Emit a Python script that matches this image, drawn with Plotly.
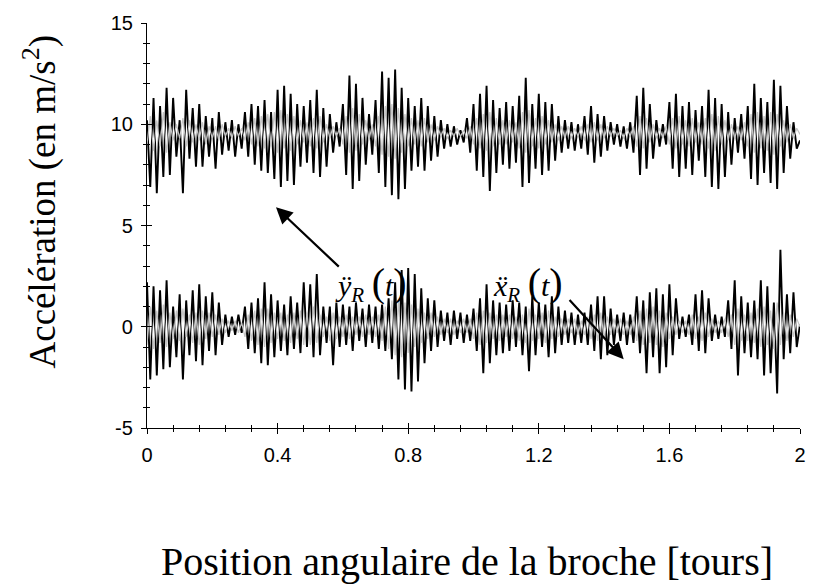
import numpy as np
import plotly.graph_objects as go

# Sampling step along the spindle angle (tours)
STEP = 0.01

# Y-direction acceleration, main trace (m/s^2)
y_black = [
    10.2, 6.9, 11.3, 6.6, 10.9, 7.4, 11.8, 7.5, 11.3, 8.4,
    10.2, 6.6, 11.7, 8.3, 10.8, 7.9, 11.0, 7.9, 10.4, 8.4,
    10.3, 7.8, 10.6, 8.5, 10.1, 8.7, 10.2, 8.4, 10.0, 8.8,
    10.6, 8.4, 11.0, 8.0, 10.9, 7.7, 11.2, 7.6, 10.6, 7.3,
    11.7, 6.9, 11.9, 7.2, 11.5, 7.0, 11.0, 7.9, 10.9, 8.1,
    11.2, 7.6, 11.7, 7.4, 10.8, 7.9, 10.5, 8.6, 10.1, 8.9,
    11.0, 7.5, 12.4, 6.8, 12.0, 7.2, 11.3, 8.0, 10.5, 8.5,
    11.2, 7.6, 12.6, 6.9, 12.3, 6.5, 12.7, 6.3, 11.8, 6.8,
    11.3, 7.7, 10.9, 7.9, 11.3, 7.7, 10.9, 8.2, 10.4, 8.4,
    10.2, 8.8, 10.0, 8.9, 9.9, 9.0, 9.7, 9.1, 10.3, 8.6,
    11.0, 7.7, 11.5, 7.4, 11.9, 6.7, 11.2, 7.6, 10.8, 8.0,
    11.1, 7.8, 10.9, 8.1, 11.4, 6.9, 12.3, 7.1, 11.0, 7.8,
    11.5, 7.5, 11.1, 7.7, 11.0, 8.2, 10.4, 8.6, 10.2, 8.8,
    10.1, 8.7, 10.0, 8.8, 10.4, 8.5, 10.9, 8.1, 10.5, 8.4,
    10.4, 8.7, 10.1, 9.0, 10.0, 8.9, 9.9, 8.8, 10.1, 8.6,
    11.4, 7.5, 11.8, 7.8, 11.0, 8.3, 10.2, 8.9, 10.0, 9.0,
    11.1, 7.8, 11.5, 7.4, 10.9, 7.8, 11.1, 7.5, 10.7, 8.2,
    10.9, 7.4, 11.7, 6.9, 11.3, 6.8, 11.0, 7.4, 10.6, 8.0,
    10.3, 8.6, 10.5, 8.3, 10.9, 7.3, 12.0, 7.0, 11.3, 7.6,
    11.1, 7.1, 12.2, 6.8, 11.9, 7.6, 10.9, 8.3, 10.1, 8.8, 9.2,
]

# Y-direction acceleration, grey overlay trace (m/s^2)
y_grey = [
    9.0, 10.4, 8.7, 10.2, 8.9, 10.6, 8.6, 10.1, 9.2, 10.0,
    9.3, 10.3, 8.9, 10.2, 9.1, 10.0, 9.2, 10.1, 9.0, 9.9,
    9.3, 9.9, 9.2, 10.0, 9.4, 9.8, 9.3, 9.9, 9.4, 9.8,
    9.2, 10.1, 9.0, 10.3, 8.9, 10.4, 8.8, 10.5, 8.9, 10.6,
    8.6, 10.7, 8.8, 10.5, 8.7, 10.4, 9.0, 10.2, 9.1, 10.1,
    8.9, 10.3, 8.8, 10.4, 9.1, 10.0, 9.3, 9.9, 9.4, 9.8,
    9.0, 10.4, 8.6, 10.8, 8.7, 10.5, 9.0, 10.2, 9.2, 10.0,
    8.9, 10.4, 8.5, 10.9, 8.4, 11.0, 8.3, 10.8, 8.6, 10.5,
    8.9, 10.3, 9.0, 10.2, 8.9, 10.3, 9.1, 10.0, 9.2, 9.9,
    9.4, 9.8, 9.3, 9.7, 9.4, 9.8, 9.4, 9.7, 9.3, 9.9,
    9.0, 10.3, 8.8, 10.5, 8.7, 10.6, 8.9, 10.3, 9.0, 10.2,
    9.0, 10.2, 9.1, 10.1, 8.8, 10.6, 8.6, 10.7, 8.9, 10.3,
    8.8, 10.4, 9.0, 10.2, 9.1, 10.0, 9.2, 9.9, 9.3, 9.9,
    9.3, 9.8, 9.4, 9.9, 9.2, 10.0, 9.1, 10.1, 9.2, 10.0,
    9.3, 9.9, 9.4, 9.8, 9.4, 9.7, 9.3, 9.8, 9.4, 9.9,
    8.9, 10.4, 8.8, 10.3, 9.1, 10.0, 9.3, 9.8, 9.3, 9.9,
    9.0, 10.3, 8.8, 10.4, 9.0, 10.2, 8.9, 10.3, 9.1, 10.1,
    9.0, 10.3, 8.8, 10.5, 8.7, 10.4, 9.0, 10.2, 9.2, 10.0,
    9.3, 9.9, 9.2, 10.1, 8.9, 10.5, 8.6, 10.6, 8.8, 10.4,
    8.7, 10.6, 8.5, 10.5, 8.9, 10.2, 9.1, 10.0, 9.3, 9.8, 9.5,
]

# X-direction acceleration, main trace (m/s^2)
x_black = [
    2.2, -2.6, 2.0, -2.4, 1.8, -2.1, 2.3, -2.0, 1.0, -1.5,
    1.6, -2.6, 1.3, -1.4, 1.8, -1.7, 2.1, -1.9, 1.5, -1.2,
    1.7, -1.4, 1.2, -0.9, 0.6, -0.5, 0.5, -0.4, 0.6, -0.3,
    1.0, -1.1, 1.2, -1.3, 1.4, -1.8, 2.2, -1.9, 1.6, -1.5,
    1.3, -1.2, 1.1, -1.4, 1.5, -1.1, 1.2, -1.3, 2.2, -1.0,
    2.1, -1.5, 2.6, -1.4, 1.0, -0.8, 1.0, -1.9, 1.2, -1.0,
    1.1, -0.9, 1.0, -1.2, 1.2, -0.7, 0.9, -1.0, 1.1, -0.8,
    1.0, -1.1, 1.1, -1.2, 1.4, -1.6, 2.2, -2.6, 2.8, -3.1,
    2.9, -3.2, 2.6, -2.7, 1.9, -1.8, 1.4, -1.2, 1.3, -1.0,
    0.8, -0.7, 0.7, -0.9, 0.8, -0.6, 0.7, -0.8, 0.6, -0.7,
    0.9, -1.2, 1.4, -2.3, 2.1, -1.8, 1.3, -1.4, 1.2, -1.3,
    1.1, -1.2, 1.3, -1.0, 1.2, -1.4, 1.0, -2.2, 1.5, -1.4,
    1.2, -1.0, 1.1, -1.5, 1.5, -1.3, 1.0, -0.9, 0.8, -0.8,
    0.7, -0.9, 0.6, -0.8, 0.7, -0.9, 1.1, -1.2, 1.5, -1.6,
    1.5, -1.4, 0.9, -0.9, 0.6, -0.7, 0.7, -0.9, 0.6, -0.8,
    1.5, -1.3, 1.3, -2.3, 1.7, -1.5, 1.9, -2.3, 1.6, -2.0,
    2.1, -1.4, 1.4, -0.6, 0.5, -0.5, 0.6, -0.9, 1.6, -1.2,
    1.8, -1.3, 1.4, -0.7, 0.6, -0.6, 0.5, -0.5, 1.3, -1.1,
    2.3, -2.4, 1.5, -1.3, 1.2, -1.5, 1.3, -1.6, 2.3, -2.4,
    2.0, -2.3, 1.2, -3.3, 3.8, -1.6, 1.6, -1.3, 1.7, -1.0, 0.1,
]

# X-direction acceleration, grey overlay trace (m/s^2)
x_grey = [
    -0.9, 1.0, -1.1, 0.8, -0.8, 1.1, -1.0, 0.7, -0.6, 0.8,
    -0.7, 0.9, -0.5, 0.6, -0.8, 0.7, -0.9, 0.8, -0.6, 0.7,
    -0.5, 0.6, -0.4, 0.4, -0.3, 0.3, -0.2, 0.3, -0.3, 0.2,
    -0.5, 0.6, -0.7, 0.8, -0.9, 0.9, -1.0, 0.9, -0.8, 0.7,
    -0.6, 0.7, -0.7, 0.6, -0.8, 0.7, -0.6, 0.8, -0.9, 0.7,
    -0.9, 1.0, -0.8, 0.6, -0.5, 0.5, -0.7, 0.7, -0.6, 0.5,
    -0.5, 0.6, -0.6, 0.5, -0.4, 0.5, -0.5, 0.6, -0.4, 0.5,
    -0.5, 0.6, -0.7, 1.0, -1.1, 1.3, -1.4, 1.3, -1.5, 1.2,
    -1.3, 1.1, -1.0, 0.9, -0.8, 0.7, -0.6, 0.7, -0.5, 0.5,
    -0.4, 0.4, -0.3, 0.4, -0.4, 0.3, -0.3, 0.4, -0.3, 0.4,
    -0.6, 0.7, -0.9, 0.8, -0.8, 0.7, -0.6, 0.6, -0.7, 0.6,
    -0.5, 0.6, -0.6, 0.5, -0.7, 0.6, -0.8, 0.9, -0.7, 0.6,
    -0.6, 0.7, -0.8, 0.8, -0.6, 0.5, -0.5, 0.4, -0.4, 0.4,
    -0.3, 0.4, -0.4, 0.3, -0.4, 0.5, -0.6, 0.6, -0.7, 0.7,
    -0.6, 0.5, -0.4, 0.4, -0.3, 0.4, -0.4, 0.3, -0.4, 0.5,
    -0.7, 0.8, -0.9, 0.9, -0.8, 1.0, -0.9, 0.8, -1.0, 0.7,
    -0.6, 0.5, -0.4, 0.3, -0.3, 0.3, -0.4, 0.6, -0.6, 0.5,
    -0.7, 0.7, -0.5, 0.4, -0.3, 0.3, -0.3, 0.4, -0.5, 0.6,
    -0.9, 0.9, -0.7, 0.6, -0.7, 0.7, -0.8, 0.9, -1.0, 1.0,
    -0.9, 0.8, -1.1, 1.2, -0.9, 0.7, -0.7, 0.6, -0.5, 0.4, 0.0,
]

x_ticks = [0, 0.4, 0.8, 1.2, 1.6, 2]
x_tick_text = ["0", "0.4", "0.8", "1.2", "1.6", "2"]
y_ticks = [-5, 0, 5, 10, 15]
y_tick_text = ["-5", "0", "5", "10", "15"]

angle = np.arange(len(y_black)) * STEP

SERIF = "Liberation Serif, Times New Roman, serif"
SANS = "Liberation Sans, Arial, sans-serif"

fig = go.Figure()
fig.add_trace(go.Scatter(x=angle, y=y_black, mode="lines",
                         line=dict(color="black", width=1.9), showlegend=False))
fig.add_trace(go.Scatter(x=angle, y=x_black, mode="lines",
                         line=dict(color="black", width=1.9), showlegend=False))
fig.add_trace(go.Scatter(x=angle, y=y_grey, mode="lines",
                         line=dict(color="#c4c4c4", width=1.2), showlegend=False))
fig.add_trace(go.Scatter(x=angle, y=x_grey, mode="lines",
                         line=dict(color="#c4c4c4", width=1.2), showlegend=False))

axis_common = dict(showgrid=False, zeroline=False, showline=True,
                   linecolor="black", linewidth=1.2, tickcolor="black",
                   ticklabelstandoff=4,
                   tickfont=dict(family=SANS, size=20, color="black"))

fig.update_layout(
    width=818, height=588,
    margin=dict(l=147, r=12, t=20, b=160),
    paper_bgcolor="white", plot_bgcolor="white",
    xaxis=dict(range=[0, 2], tickmode="array", tickvals=x_ticks,
               ticktext=x_tick_text, ticks="outside", ticklen=5,
               minor=dict(dtick=0.08, ticks="outside", ticklen=3,
                          tickcolor="black", showgrid=False),
               **axis_common),
    yaxis=dict(range=[-5, 15], tickmode="array", tickvals=y_ticks,
               ticktext=y_tick_text, ticks="outside", ticklen=5,
               minor=dict(dtick=1, ticks="outside", ticklen=3,
                          tickcolor="black", showgrid=False),
               **axis_common),
    # inner halves of the crossing tick marks
    xaxis2=dict(overlaying="x", matches="x", range=[0, 2], showgrid=False,
                zeroline=False, showline=False, showticklabels=False,
                tickmode="array", tickvals=x_ticks, ticks="inside",
                ticklen=5, tickcolor="black", side="bottom",
                minor=dict(dtick=0.08, ticks="inside", ticklen=3,
                           tickcolor="black", showgrid=False)),
    yaxis2=dict(overlaying="y", matches="y", range=[-5, 15], showgrid=False,
                zeroline=False, showline=False, showticklabels=False,
                tickmode="array", tickvals=y_ticks, ticks="inside",
                ticklen=5, tickcolor="black", side="left",
                minor=dict(dtick=1, ticks="inside", ticklen=3,
                           tickcolor="black", showgrid=False)),
)

# invisible trace that activates the overlay axes
fig.add_trace(go.Scatter(x=[None], y=[None], xaxis="x2", yaxis="y2",
                         showlegend=False, hoverinfo="skip"))

big = "<span style='font-size:40px'>"
label_y = ("<i>ÿ</i><sub><i>R</i></sub> " + big + "(</span><i>t</i>"
           + big + ")</span>")
label_x = ("<i>ẍ</i><sub><i>R</i></sub> " + big + "(</span><i>t</i>"
           + big + ")</span>")

annotations = [
    dict(text="Accélération (en m/s<sup>2</sup>)", xref="paper", yref="paper",
         x=-0.164, y=0.559, xanchor="center", yanchor="middle",
         textangle=-90, showarrow=False,
         font=dict(family=SERIF, size=37, color="black")),
    dict(text="Position angulaire de la broche [tours]", xref="paper",
         yref="paper", x=0.49, y=-0.33, xanchor="center", yanchor="middle",
         showarrow=False, font=dict(family=SERIF, size=40, color="black")),
    dict(text=label_y, xref="x", yref="y", x=0.685, y=2.15,
         xanchor="center", yanchor="middle", showarrow=False,
         font=dict(family=SERIF, size=30, color="black")),
    dict(text=label_x, xref="x", yref="y", x=1.168, y=2.15,
         xanchor="center", yanchor="middle", showarrow=False,
         font=dict(family=SERIF, size=30, color="black")),
    dict(text="", xref="x", yref="y", x=0.395, y=5.9, axref="x", ayref="y",
         ax=0.592, ay=2.9, showarrow=True, arrowhead=2, arrowsize=1.5,
         arrowwidth=2.2, arrowcolor="black"),
    dict(text="", xref="x", yref="y", x=1.46, y=-1.6, axref="x", ayref="y",
         ax=1.29, ay=1.4, showarrow=True, arrowhead=2, arrowsize=1.5,
         arrowwidth=2.2, arrowcolor="black"),
]
fig.update_layout(annotations=annotations)

fig.write_html("out.html")
